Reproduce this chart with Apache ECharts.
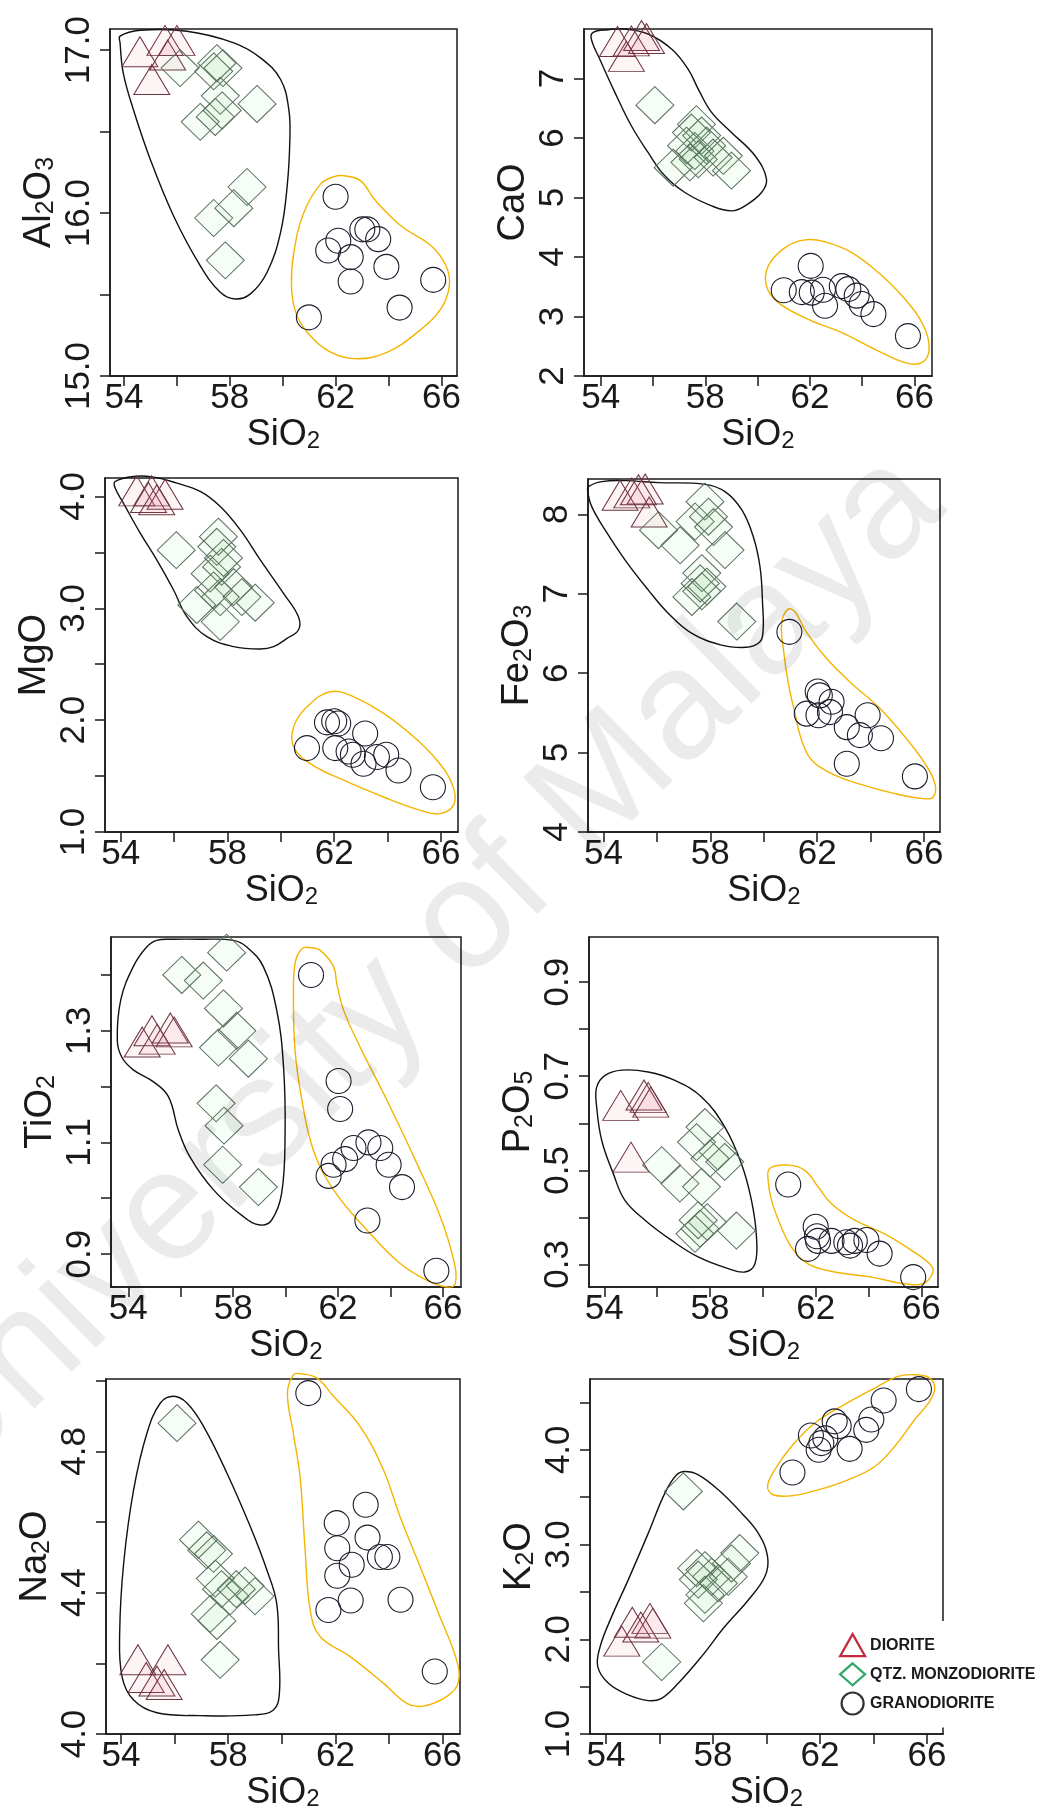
<!DOCTYPE html>
<html><head><meta charset="utf-8">
<script src="https://cdn.jsdelivr.net/npm/echarts@6/dist/echarts.min.js"></script>
<style>html,body{margin:0;padding:0;background:#fff}#c{width:1051px;height:1812px}</style>
</head><body><div id="c"></div>
<script>
// ---------------- DATA ----------------
const sio2_ticks = [54,56,58,60,62,64,66];
const sio2_labels = [54,58,62,66];
const legend_names = ['DIORITE','QTZ. MONZODIORITE','GRANODIORITE'];

// Al2O3
const al2o3_ticks = [15.0,15.5,16.0,16.5,17.0];
const al2o3_labels = [15.0,16.0,17.0];
const al2o3_dio = [[54.6,16.99],[55.05,16.82],[55.65,16.97],[55.55,17.06],[56.0,17.06]];
const al2o3_qmd = [[56.12,16.89],[57.51,16.92],[57.74,16.89],[57.39,16.87],[57.64,16.72],[57.71,16.63],[59.03,16.67],[56.88,16.56],[57.45,16.59],[58.65,16.16],[57.39,15.97],[58.15,16.03],[57.83,15.71]];
const al2o3_gd = [[62.0,16.10],[63.01,15.90],[63.2,15.90],[63.61,15.84],[62.1,15.83],[61.72,15.77],[62.57,15.73],[63.92,15.67],[62.57,15.58],[65.69,15.59],[64.42,15.42],[60.99,15.36]];
const al2o3_hull_qmd = [[53.85,17.086],[54.61,17.122],[56.38,17.116],[58.15,17.045],[59.16,16.953],[59.92,16.82],[60.23,16.637],[60.27,16.453],[60.17,16.167],[59.92,15.882],[59.41,15.637],[58.78,15.504],[58.21,15.473],[57.64,15.514],[56.88,15.678],[55.87,15.984],[54.99,16.331],[54.35,16.637],[53.97,16.861],[53.85,17.045]];
const al2o3_hull_gd = [[62.32,16.229],[62.95,16.198],[63.46,16.086],[64.47,15.922],[65.61,15.8],[66.17,15.678],[66.30,15.555],[65.98,15.412],[65.1,15.269],[63.96,15.147],[62.82,15.106],[61.81,15.147],[60.93,15.269],[60.49,15.392],[60.33,15.555],[60.42,15.759],[60.8,16.004],[61.43,16.178],[61.94,16.224]];

// CaO
const cao_ticks = [2,3,4,5,6,7];
const cao_labels = [2,3,4,5,6,7];
const cao_dio = [[54.64,7.62],[54.98,7.37],[55.56,7.72],[55.75,7.67],[55.17,7.63]];
const cao_qmd = [[56.07,6.55],[57.66,6.23],[57.47,6.09],[57.86,6.04],[57.28,5.87],[57.6,5.78],[58.05,5.87],[57.73,5.64],[57.41,5.59],[58.3,5.67],[58.69,5.70],[59.0,5.45],[56.77,5.50]];
const cao_gd = [[62.03,3.85],[61.0,3.44],[61.69,3.41],[62.07,3.40],[62.58,3.18],[62.5,3.45],[63.22,3.51],[63.47,3.46],[63.79,3.35],[63.98,3.21],[64.43,3.04],[65.75,2.67]];
const cao_hull_qmd = [[53.71,7.774],[54.28,7.818],[54.92,7.83],[55.81,7.746],[56.71,7.493],[57.34,7.157],[57.73,6.821],[58.24,6.428],[59.0,6.092],[59.9,5.7],[60.34,5.307],[60.15,5.083],[59.52,4.859],[59.0,4.775],[58.24,4.859],[57.22,5.083],[56.45,5.363],[55.81,5.756],[55.17,6.204],[54.54,6.765],[53.96,7.325],[53.64,7.661]];
const cao_hull_gd = [[61.81,4.287],[62.58,4.253],[63.6,4.074],[64.62,3.738],[65.64,3.289],[66.35,2.841],[66.56,2.449],[66.28,2.224],[65.64,2.224],[64.49,2.449],[63.22,2.729],[61.94,2.953],[60.79,3.233],[60.34,3.513],[60.41,3.85],[61.05,4.158]];

// MgO
const mgo_ticks = [1.0,1.5,2.0,2.5,3.0,3.5,4.0];
const mgo_labels = [1.0,2.0,3.0,4.0];
const mgo_dio = [[54.6,4.05],[55.04,3.99],[55.66,4.02],[55.16,4.05],[55.35,3.97]];
const mgo_qmd = [[56.08,3.52],[57.66,3.64],[57.6,3.55],[57.85,3.45],[57.35,3.31],[57.78,3.37],[57.48,3.16],[58.23,3.19],[57.73,3.10],[58.54,3.10],[59.04,3.05],[56.85,3.03],[57.73,2.88]];
const mgo_gd = [[60.98,1.75],[61.73,1.98],[62.0,1.99],[62.15,1.97],[63.16,1.88],[62.04,1.75],[62.54,1.72],[62.7,1.69],[63.1,1.61],[63.6,1.67],[63.95,1.69],[64.41,1.55],[65.7,1.40]];
const mgo_hull_qmd = [[53.79,4.134],[54.48,4.179],[55.23,4.173],[56.1,4.119],[56.98,4.045],[57.73,3.91],[58.48,3.701],[59.23,3.433],[60.1,3.134],[60.66,2.925],[60.66,2.806],[60.23,2.731],[59.73,2.657],[59.23,2.636],[58.23,2.657],[57.23,2.746],[56.48,2.925],[55.98,3.164],[55.35,3.433],[54.73,3.672],[54.1,3.94],[53.79,4.075]];
const mgo_hull_gd = [[61.85,2.254],[62.73,2.209],[63.85,2.06],[64.98,1.851],[65.85,1.642],[66.41,1.433],[66.5,1.254],[65.98,1.164],[65.23,1.194],[63.85,1.313],[62.35,1.463],[61.1,1.612],[60.48,1.761],[60.48,1.94],[60.98,2.119]];

// Fe2O3
const fe2o3_ticks = [4,5,6,7,8];
const fe2o3_labels = [4,5,6,7,8];
const fe2o3_dio = [[54.62,8.24],[55.06,8.27],[55.56,8.32],[55.71,8.03],[55.31,8.31]];
const fe2o3_qmd = [[56.06,7.80],[56.87,7.61],[57.8,8.16],[57.93,7.97],[57.43,7.91],[58.12,7.84],[58.55,7.55],[57.68,7.26],[57.62,7.13],[57.68,7.03],[57.31,6.96],[57.87,7.09],[58.99,6.65]];
const fe2o3_gd = [[60.96,6.52],[62.02,5.77],[62.1,5.72],[62.54,5.64],[61.61,5.49],[62.05,5.47],[62.48,5.51],[63.11,5.32],[63.6,5.22],[63.89,5.47],[64.39,5.18],[63.11,4.86],[65.66,4.70]];
const fe2o3_hull_qmd = [[53.44,8.349],[53.94,8.412],[54.81,8.424],[56.06,8.399],[57.8,8.378],[58.55,8.286],[59.18,8.055],[59.61,7.718],[59.86,7.34],[59.95,6.92],[59.95,6.458],[59.68,6.353],[59.18,6.324],[58.43,6.353],[57.31,6.5],[56.43,6.752],[55.68,7.046],[54.81,7.424],[54.06,7.803],[53.56,8.097],[53.41,8.286]];
const fe2o3_hull_gd = [[60.9,6.803],[61.17,6.773],[61.55,6.542],[62.3,6.206],[63.29,5.87],[64.29,5.576],[65.29,5.197],[66.04,4.861],[66.41,4.609],[66.35,4.441],[65.97,4.42],[64.91,4.483],[63.54,4.609],[62.54,4.735],[61.8,4.903],[61.42,5.155],[61.17,5.492],[60.92,5.87],[60.74,6.29],[60.67,6.626]];

// TiO2
const tio2_ticks = [0.9,1.0,1.1,1.2,1.3,1.4];
const tio2_labels = [0.9,1.1,1.3];
const tio2_dio = [[54.53,1.28],[54.9,1.30],[55.1,1.285],[55.6,1.305],[55.75,1.298]];
const tio2_qmd = [[56.04,1.40],[56.86,1.39],[57.75,1.44],[57.63,1.34],[58.14,1.30],[57.44,1.27],[58.58,1.25],[57.35,1.17],[57.65,1.13],[57.6,1.06],[58.96,1.02]];
const tio2_gd = [[60.97,1.40],[62.02,1.21],[62.08,1.16],[63.16,1.10],[63.61,1.09],[62.59,1.09],[62.27,1.07],[61.83,1.06],[61.64,1.04],[63.93,1.06],[64.44,1.02],[63.12,0.96],[65.75,0.87]];
const tio2_hull_qmd = [[55.08,1.462],[55.72,1.464],[56.74,1.464],[58.01,1.462],[58.52,1.450],[59.15,1.415],[59.66,1.337],[59.92,1.236],[59.98,1.116],[59.85,1.009],[59.47,0.961],[59.03,0.952],[58.39,0.967],[57.25,1.015],[56.35,1.074],[55.91,1.122],[55.53,1.182],[54.95,1.209],[54.19,1.23],[53.75,1.253],[53.58,1.283],[53.71,1.355],[54.19,1.415],[54.7,1.45]];
const tio2_hull_gd = [[60.62,1.447],[60.94,1.449],[61.32,1.444],[61.83,1.415],[61.95,1.385],[62.21,1.337],[62.84,1.271],[63.86,1.176],[65.01,1.062],[65.9,0.967],[66.41,0.889],[66.47,0.847],[66.15,0.841],[65.39,0.853],[64.37,0.883],[63.1,0.943],[61.83,1.015],[61.06,1.086],[60.62,1.176],[60.36,1.265],[60.3,1.355],[60.36,1.421]];

// P2O5
const p2o5_ticks = [0.3,0.4,0.5,0.6,0.7,0.8,0.9];
const p2o5_labels = [0.3,0.5,0.7,0.9];
const p2o5_dio = [[54.62,0.638],[55.5,0.66],[55.66,0.655],[55.76,0.645],[55.01,0.528]];
const p2o5_qmd = [[56.17,0.511],[56.86,0.472],[57.49,0.56],[57.81,0.592],[58.0,0.525],[58.56,0.518],[58.3,0.54],[57.68,0.465],[57.55,0.394],[57.62,0.376],[57.43,0.365],[57.9,0.39],[59.0,0.372]];
const p2o5_gd = [[60.96,0.47],[62.0,0.38],[62.05,0.36],[61.71,0.333],[62.09,0.35],[62.6,0.35],[63.16,0.347],[63.3,0.34],[63.48,0.35],[63.92,0.352],[64.42,0.323],[65.69,0.273]];
const p2o5_hull_qmd = [[53.71,0.677],[54.03,0.702],[54.66,0.713],[55.66,0.709],[56.67,0.691],[57.68,0.656],[58.56,0.592],[59.19,0.514],[59.57,0.436],[59.76,0.358],[59.7,0.301],[59.32,0.284],[58.69,0.291],[57.55,0.316],[56.55,0.351],[55.54,0.394],[54.78,0.436],[54.34,0.493],[53.9,0.564],[53.71,0.635]];
const p2o5_hull_gd = [[60.26,0.504],[60.96,0.511],[61.59,0.5],[62.09,0.465],[62.6,0.429],[63.48,0.394],[64.61,0.365],[65.62,0.330],[66.32,0.301],[66.44,0.284],[66.06,0.259],[65.37,0.259],[64.11,0.273],[62.72,0.284],[61.71,0.301],[61.08,0.337],[60.64,0.387],[60.33,0.436],[60.2,0.479]];

// Na2O
const na2o_ticks = [4.0,4.2,4.4,4.6,4.8,5.0];
const na2o_labels = [4.0,4.4,4.8];
const na2o_dio = [[54.63,4.21],[55.75,4.21],[54.94,4.16],[55.34,4.15],[55.61,4.14]];
const na2o_qmd = [[56.09,4.88],[56.89,4.55],[57.2,4.52],[57.45,4.51],[57.52,4.44],[57.75,4.41],[58.63,4.42],[59.0,4.39],[58.07,4.39],[58.3,4.41],[57.33,4.34],[57.58,4.32],[57.7,4.21]];
const na2o_gd = [[60.99,4.965],[63.13,4.649],[62.05,4.597],[63.2,4.556],[62.07,4.526],[62.61,4.479],[63.66,4.501],[63.94,4.501],[62.07,4.448],[62.57,4.378],[61.74,4.351],[64.43,4.38],[65.71,4.177]];
const na2o_hull_qmd = [[55.96,4.956],[56.46,4.937],[57.08,4.871],[57.95,4.739],[58.82,4.588],[59.44,4.465],[59.81,4.37],[59.88,4.238],[59.91,4.115],[59.69,4.068],[58.94,4.054],[56.96,4.052],[55.34,4.06],[54.47,4.096],[54.04,4.162],[53.95,4.285],[54.1,4.484],[54.47,4.691],[54.97,4.852],[55.47,4.937]];
const na2o_hull_gd = [[60.43,5.017],[60.68,5.02],[61.3,5.008],[61.93,4.956],[62.92,4.871],[63.79,4.748],[64.41,4.616],[65.16,4.474],[65.9,4.332],[66.52,4.21],[66.58,4.144],[66.15,4.106],[65.28,4.079],[64.66,4.087],[63.79,4.144],[62.55,4.219],[61.43,4.276],[61.06,4.351],[60.87,4.521],[60.68,4.729],[60.43,4.852],[60.21,4.965]];

// K2O
const k2o_ticks = [1.0,1.5,2.0,2.5,3.0,3.5,4.0,4.5];
const k2o_labels = [1.0,2.0,3.0,4.0];
const k2o_dio = [[54.98,2.18],[55.64,2.22],[55.75,2.17],[54.59,1.98],[55.3,2.13]];
const k2o_qmd = [[56.89,3.56],[59.0,2.91],[58.69,2.80],[57.39,2.75],[57.7,2.73],[57.95,2.66],[57.45,2.63],[58.2,2.59],[58.57,2.66],[57.7,2.47],[57.64,2.38],[56.08,1.76]];
const k2o_gd = [[65.7,4.64],[64.38,4.52],[63.92,4.32],[63.73,4.21],[62.55,4.30],[62.7,4.25],[61.66,4.15],[62.05,4.07],[61.95,4.0],[63.11,4.01],[60.97,3.76],[62.2,4.12]];
const k2o_hull_qmd = [[56.95,3.771],[57.45,3.736],[58.2,3.577],[59.07,3.331],[59.69,3.12],[60.04,2.873],[59.94,2.662],[59.32,2.415],[58.44,2.134],[57.57,1.817],[56.7,1.535],[56.08,1.377],[55.58,1.352],[54.83,1.412],[54.09,1.535],[53.69,1.711],[53.78,1.923],[54.21,2.239],[54.83,2.627],[55.58,3.12],[56.2,3.542],[56.64,3.736]];
const k2o_hull_gd = [[65.54,4.792],[66.1,4.757],[66.29,4.651],[66.1,4.511],[65.54,4.317],[64.79,4.035],[64.05,3.824],[63.05,3.683],[61.93,3.577],[60.93,3.514],[60.25,3.525],[60.04,3.613],[60.31,3.789],[60.93,4.035],[61.81,4.282],[62.8,4.458],[64.05,4.651],[64.92,4.775]];

// ---------------- LAYOUT / STYLE ----------------
const FONT = '"Liberation Sans", Arial, Helvetica, sans-serif';
const INK = '#1a1a1a';
const boxes = [[110,29,347,347],[584,29,348,347],[105,478,353,354],[588,479,352,353],[111,937,350,350],[589,937,349,350],[106,1379,354,355],[590,1379,353,355]];
const xRanges = [[53.47,66.59],[53.36,66.67],[53.41,66.64],[53.42,66.60],[53.34,66.69],[53.42,66.63],[53.44,66.65],[53.40,66.60]];
const yRanges = [[15.0,17.13],[2.0,7.83],[1.0,4.165],[4.0,8.445],[0.841,1.468],[0.252,0.996],[4.0,5.005],[1.0,4.747]];

const panels = [
  {name:'{m|Al}{s|2}{m|O}{s|3}', dec:1, ticks:al2o3_ticks, labels:al2o3_labels, dio:al2o3_dio, qmd:al2o3_qmd, gd:al2o3_gd, hq:al2o3_hull_qmd, hg:al2o3_hull_gd},
  {name:'{m|CaO}', dec:0, ticks:cao_ticks, labels:cao_labels, dio:cao_dio, qmd:cao_qmd, gd:cao_gd, hq:cao_hull_qmd, hg:cao_hull_gd},
  {name:'{m|MgO}', dec:1, ticks:mgo_ticks, labels:mgo_labels, dio:mgo_dio, qmd:mgo_qmd, gd:mgo_gd, hq:mgo_hull_qmd, hg:mgo_hull_gd},
  {name:'{m|Fe}{s|2}{m|O}{s|3}', dec:0, ticks:fe2o3_ticks, labels:fe2o3_labels, dio:fe2o3_dio, qmd:fe2o3_qmd, gd:fe2o3_gd, hq:fe2o3_hull_qmd, hg:fe2o3_hull_gd},
  {name:'{m|TiO}{s|2}', dec:1, ticks:tio2_ticks, labels:tio2_labels, dio:tio2_dio, qmd:tio2_qmd, gd:tio2_gd, hq:tio2_hull_qmd, hg:tio2_hull_gd},
  {name:'{m|P}{s|2}{m|O}{s|5}', dec:1, ticks:p2o5_ticks, labels:p2o5_labels, dio:p2o5_dio, qmd:p2o5_qmd, gd:p2o5_gd, hq:p2o5_hull_qmd, hg:p2o5_hull_gd},
  {name:'{m|Na}{s|2}{m|O}', dec:1, ticks:na2o_ticks, labels:na2o_labels, dio:na2o_dio, qmd:na2o_qmd, gd:na2o_gd, hq:na2o_hull_qmd, hg:na2o_hull_gd},
  {name:'{m|K}{s|2}{m|O}', dec:1, ticks:k2o_ticks, labels:k2o_labels, dio:k2o_dio, qmd:k2o_qmd, gd:k2o_gd, hq:k2o_hull_qmd, hg:k2o_hull_gd}
];

function rich(mSize, sSize) {
  return {
    m: {fontSize: mSize, lineHeight: 40, verticalAlign: 'bottom', color: INK, fontFamily: FONT},
    s: {fontSize: sSize, lineHeight: 22, verticalAlign: 'bottom', color: INK, fontFamily: FONT}
  };
}

function hull(i, pts, color) {
  return {
    type: 'custom', xAxisIndex: i, yAxisIndex: i, silent: true, z: 1, clip: false,
    data: [pts[0]],
    renderItem: function (params, api) {
      return {
        type: 'polygon',
        shape: {points: pts.map(function (p) { return api.coord(p); }), smooth: 0.4},
        style: {fill: 'none', stroke: color, lineWidth: 1.4}
      };
    }
  };
}

const grids = [], xAxes = [], yAxes = [], series = [];
panels.forEach(function (p, i) {
  const b = boxes[i];
  grids.push({left: b[0], top: b[1], width: b[2], height: b[3], show: true, borderColor: INK, borderWidth: 1.5,
    backgroundColor: 'transparent', containLabel: false, outerBoundsMode: 'none'});
  xAxes.push({
    type: 'value', gridIndex: i, min: xRanges[i][0], max: xRanges[i][1],
    axisLine: {show: true, onZero: false, lineStyle: {color: INK, width: 1.5}},
    axisTick: {show: true, length: 10, customValues: sio2_ticks, lineStyle: {color: INK, width: 1.5}},
    axisLabel: {customValues: sio2_labels, fontSize: 35, color: INK, margin: 5, fontFamily: FONT},
    splitLine: {show: false},
    name: '{m|SiO}{s|2}', nameLocation: 'middle', nameGap: 36,
    nameTextStyle: {rich: rich(36, 24)}
  });
  yAxes.push({
    type: 'value', gridIndex: i, min: yRanges[i][0], max: yRanges[i][1],
    axisLine: {show: true, onZero: false, lineStyle: {color: INK, width: 1.5}},
    axisTick: {show: true, length: 10, customValues: p.ticks, lineStyle: {color: INK, width: 1.5}},
    axisLabel: {customValues: p.labels, rotate: 90, fontSize: 35, color: INK, margin: 13, fontFamily: FONT,
      formatter: (function (d) { return function (v) { return Number(v).toFixed(d); }; })(p.dec)},
    splitLine: {show: false},
    name: p.name, nameLocation: 'middle', nameRotate: 90, nameGap: 51,
    nameTextStyle: {rich: rich(38, 25)}
  });
  series.push(hull(i, p.hq, '#111111'));
  series.push(hull(i, p.hg, '#f4b400'));
  series.push({name: legend_names[0], type: 'scatter', xAxisIndex: i, yAxisIndex: i, data: p.dio, symbol: 'triangle', symbolSize: [36, 30], z: 3,
    itemStyle: {color: 'rgba(225,120,140,0.08)', borderColor: '#6e3440', borderWidth: 1, opacity: 1}, emphasis: {disabled: true}});
  series.push({name: legend_names[1], type: 'scatter', xAxisIndex: i, yAxisIndex: i, data: p.qmd, symbol: 'diamond', symbolSize: [38, 37], z: 3,
    itemStyle: {color: 'rgba(110,200,110,0.06)', borderColor: '#5a7060', borderWidth: 1, opacity: 1}, emphasis: {disabled: true}});
  series.push({name: legend_names[2], type: 'scatter', xAxisIndex: i, yAxisIndex: i, data: p.gd, symbol: 'circle', symbolSize: 25, z: 3,
    itemStyle: {color: 'rgba(0,0,0,0)', borderColor: '#1c1c2c', borderWidth: 1.1, opacity: 1}, emphasis: {disabled: true}});
});

const chart = echarts.init(document.getElementById('c'));
chart.setOption({
  animation: false,
  backgroundColor: '#ffffff',
  grid: grids, xAxis: xAxes, yAxis: yAxes, series: series,
  legend: {
    orient: 'vertical', left: 829, top: 1621, padding: [12, 16, 12, 10], itemGap: 5, itemWidth: 25, itemHeight: 22,
    backgroundColor: '#ffffff', selectedMode: false, z: 10,
    textStyle: {fontSize: 16, fontWeight: 'bold', color: INK, fontFamily: FONT},
    data: [
      {name: legend_names[0], icon: 'triangle', itemStyle: {color: '#ffffff', borderColor: '#c4283f', borderWidth: 2.2}},
      {name: legend_names[1], icon: 'diamond', itemStyle: {color: '#ffffff', borderColor: '#2fa86a', borderWidth: 2.2}},
      {name: legend_names[2], icon: 'circle', itemStyle: {color: '#ffffff', borderColor: '#333333', borderWidth: 2.2}}
    ]
  },
  graphic: [{
    type: 'text', x: 417, y: 972, rotation: 44.5 * Math.PI / 180, z: 100, silent: true,
    style: {text: 'University of Malaya', fontSize: 156, fontFamily: FONT, fill: 'rgba(0,0,0,0.08)', align: 'center', verticalAlign: 'middle'}
  }]
});
</script></body></html>
